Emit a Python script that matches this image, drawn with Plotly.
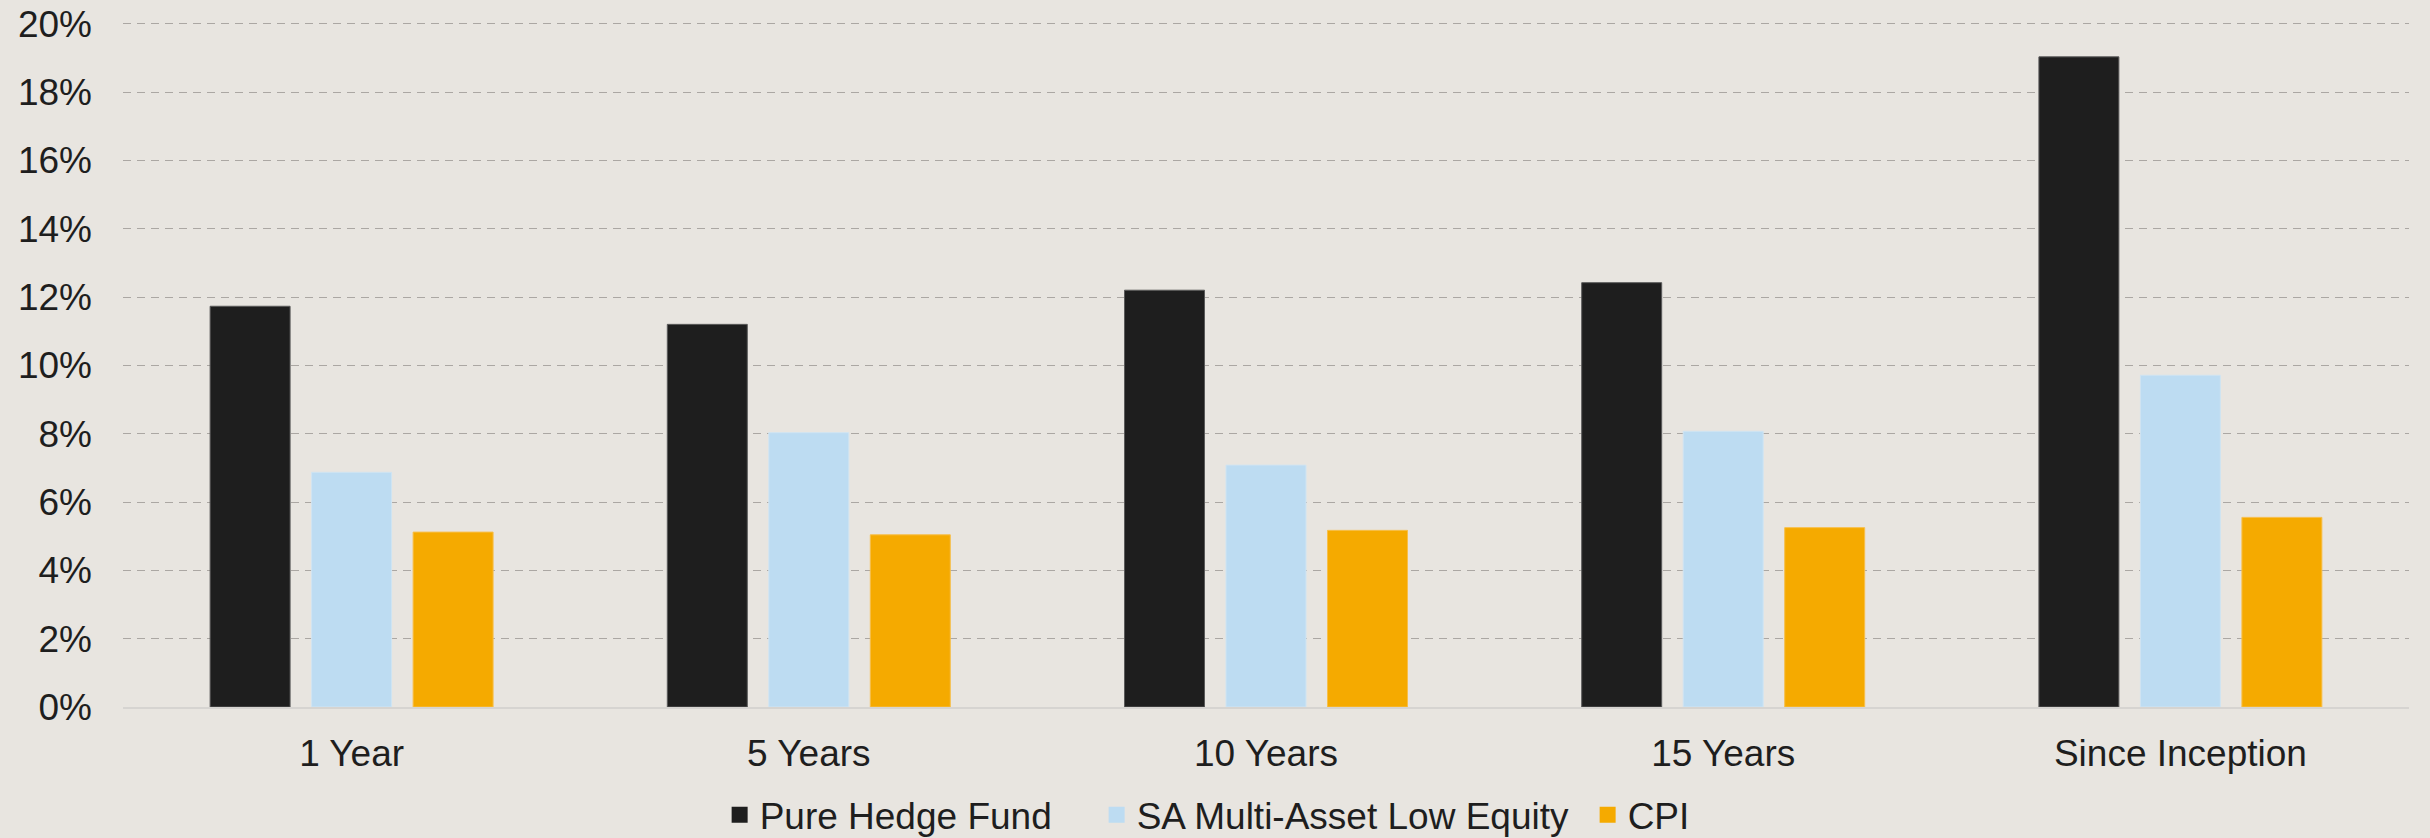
import plotly.graph_objects as go

categories = ["1 Year", "5 Years", "10 Years", "15 Years", "Since Inception"]
pure_hedge_fund = [11.73, 11.20, 12.20, 12.42, 19.03]
sa_multi_asset_low_equity = [6.87, 8.03, 7.08, 8.07, 9.71]
cpi = [5.12, 5.04, 5.17, 5.25, 5.55]
series_names = ["Pure Hedge Fund", "SA Multi-Asset Low Equity", "CPI"]
y_ticks = [0, 2, 4, 6, 8, 10, 12, 14, 16, 18, 20]
y_tick_labels = [f"{v}%" for v in y_ticks]

colors = ["#1e1e1e", "#bddcf2", "#f5aa00"]
outlines = ["#5a5a5a", "#d0e4f2", "#f7bf4a"]
legend_widths = [332, 446, 70]

fig = go.Figure()
for name, vals, c, oc in zip(series_names, [pure_hedge_fund, sa_multi_asset_low_equity, cpi],
                             colors, outlines):
    fig.add_trace(go.Bar(x=categories, y=vals, name=name, showlegend=False, legendgroup=name,
                         marker=dict(color=c, line=dict(color=oc, width=1))))
# legend entries with larger square swatches
for name, c, lw in zip(series_names, colors, legend_widths):
    fig.add_trace(go.Scatter(x=[None], y=[None], mode="markers", name=name, legendgroup=name,
                             legendwidth=lw, hoverinfo="skip",
                             marker=dict(symbol="square", size=18, color=c)))

BG = "#e8e5e0"
fig.update_layout(
    width=2430, height=838,
    paper_bgcolor=BG, plot_bgcolor=BG,
    margin=dict(l=123, r=21, t=22, b=131, autoexpand=False),
    barmode="group", bargap=0.334, bargroupgap=0.212,
    font=dict(family="Liberation Sans, Arial, sans-serif", size=37, color="#1e1e1e"),
    legend=dict(orientation="h", x=0.476, xanchor="center",
                y=-0.158, yanchor="middle", itemsizing="trace",
                font=dict(size=37), traceorder="normal",
                bgcolor="rgba(0,0,0,0)"),
    showlegend=True,
)
fig.update_yaxes(range=[0, 20.05], tickvals=y_ticks, ticktext=y_tick_labels,
                 showgrid=True, gridcolor="#aba7a3", gridwidth=1.3, griddash="8px,6px",
                 zeroline=False, showline=False, ticks="", ticklabelstandoff=30,
                 automargin=False)
fig.update_xaxes(showgrid=False, showline=True, linecolor="#d6d4d1", linewidth=2,
                 ticks="", ticklabelstandoff=13, automargin=False)

fig.write_html("out.html", config={"displayModeBar": False},
               post_script="document.body.style.margin='0';document.body.style.overflow='hidden';")
